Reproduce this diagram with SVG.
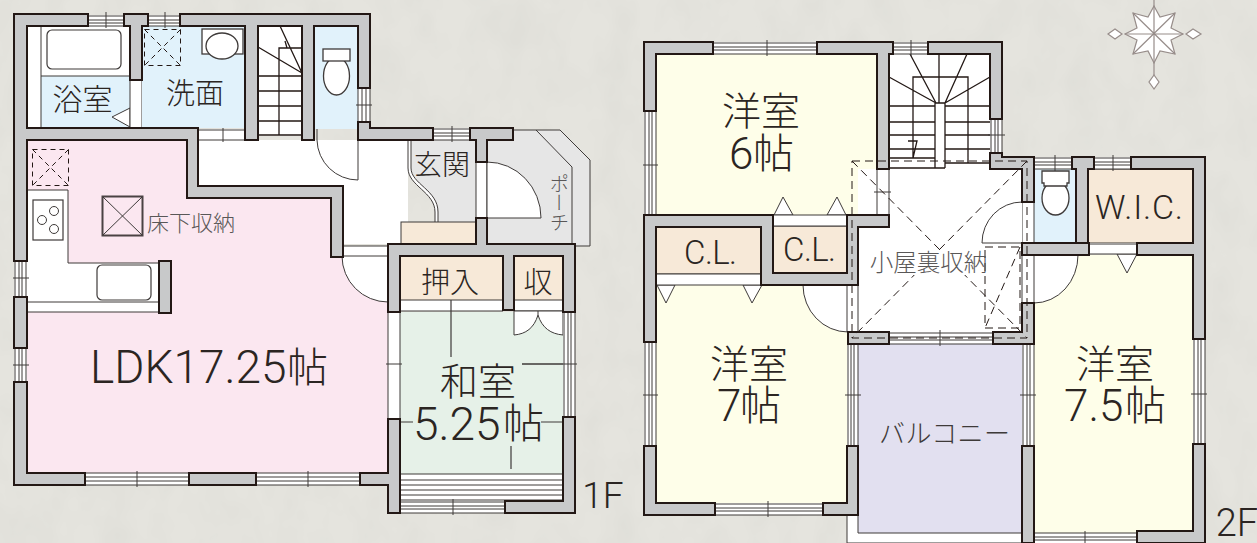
<svg xmlns="http://www.w3.org/2000/svg" width="1257" height="543" viewBox="0 0 1257 543">
<style>
text{font-family:"Roboto","Noto Sans CJK JP","Noto Sans",sans-serif;fill:#2b2522;font-weight:300;text-anchor:middle}
.s{fill:#595757}
.st{text-anchor:start}
.k{font-size:41px}
.w{fill:#c8c9ca;stroke:#231815;stroke-width:2;stroke-linejoin:miter}
.l{fill:none;stroke:#3e3a39;stroke-width:1}
.lh{fill:none;stroke:#231815;stroke-width:1.3}
.wh{fill:#fff;stroke:#3e3a39;stroke-width:1}
.win{fill:#fff}
.pk{fill:#fbe7f0}.bl{fill:#e1f2fb}.ye{fill:#fefee9}.gr{fill:#e6f1e8}.ta{fill:#f7e9d8;stroke:#3e3a39;stroke-width:1}.lv{fill:#e2e0f0}.gy{fill:#e6e6e6}
.d{fill:none;stroke:#231815;stroke-width:1;stroke-dasharray:8 5}
.d2{fill:none;stroke:#231815;stroke-width:1;stroke-dasharray:5 4}
.c{fill:#fff;stroke:#978d8a;stroke-width:1.2}
.cl{fill:none;stroke:#978d8a;stroke-width:1.2}
</style>
<defs>
<filter id="tx" x="0" y="0" width="100%" height="100%"><feTurbulence type="fractalNoise" baseFrequency="0.03 0.02" numOctaves="3" seed="4"/><feColorMatrix values="0 0 0 0 0.62 0 0 0 0 0.62 0 0 0 0 0.58 0.3 0.3 0 0 -0.24"/></filter>
</defs>
<g id="background"><rect width="1257" height="543" fill="#e5e4de"/><rect width="1257" height="543" filter="url(#tx)"/></g>

<g id="compass">
<path class="cl" d="M1154 0V75"/>
<path class="c" d="M1154 6L1160 17L1175 13L1171 28L1183 34L1171 40L1175 54L1160 51L1154 63L1148 51L1133 54L1137 40L1125 34L1137 28L1133 13L1148 17Z"/>
<path class="cl" d="M1154 6V63M1125 34H1183M1133 13L1175 54M1175 13L1133 54"/>
<path class="c" d="M1108 34L1115 29L1122 34L1115 39ZM1186 34L1193 29L1201 34L1193 39ZM1154 75L1159 82L1154 89L1149 82Z"/>
</g>

<g id="floor-1f">
<g id="ldk"><path class="pk" d="M27 140H187V198H330V256H388V473H27Z"/></g>
<g id="hall"><path class="win" d="M198 140H408V244H342V186H198Z"/><path class="win" d="M342 256A46 46 0 0 0 388 302V256Z"/><path class="l" d="M342 256A46 46 0 0 0 388 302"/>
<path class="win" d="M342 246H388V256H342Z"/><path class="l" d="M342 246H388M342 256H388"/>
<path class="win" d="M317 140A41 41 0 0 0 358 180V140Z"/><path class="l" d="M317 129V140A41 41 0 0 0 358 180V129"/>
<rect class="win" x="198" y="129" width="47" height="11"/><path class="l" d="M198 130H245M198 140H245M223 127V142"/></g>
<g id="bath">
<rect class="win" x="27" y="26" width="103" height="102"/><rect class="bl" x="41" y="76" width="89" height="52"/>
<path class="l" d="M41 26V128M41 76H130"/>
<rect class="l" x="47" y="30" width="74" height="39" rx="5" style="stroke-width:1.2"/>
<path class="wh" d="M130 108L112 117L130 127Z"/>
<rect class="win" x="130" y="80" width="12" height="48"/>
<path class="l" d="M130 80V128M142 80V128"/>
<text x="82.500" y="110" font-size="30">浴室</text></g>
<g id="wash">
<rect class="bl" x="142" y="26" width="103" height="102"/>
<rect class="d2" x="144.500" y="29.500" width="36" height="36"/>
<path class="d2" d="M144.500 29.500L180.500 65.500M180.500 29.500L144.500 65.500"/>
<rect class="wh" x="202" y="29" width="41" height="25" style="stroke-width:1.3"/><ellipse class="wh" cx="222" cy="46" rx="16" ry="13" style="stroke-width:1.3"/>
<text x="195" y="104" font-size="29">洗面</text></g>
<g id="stairs-1f">
<rect class="win" x="258" y="26" width="44" height="110"/>
<path class="lh" d="M258 76H302M258 91H302M258 106H302M258 121H302M258 135H302M279 135V48H287L302 48M280 26L302 73M258 47L302 73M285 41L287 48"/>
</g>
<g id="toilet-1f">
<rect class="bl" x="314" y="26" width="44" height="103"/>
<ellipse class="wh" cx="336.500" cy="76" rx="13" ry="19" style="stroke-width:1.3"/>
<rect class="wh" x="323" y="49" width="27" height="12" style="stroke-width:1.3"/>
</g>
<g id="kitchen">
<path class="win" d="M27 190H68V263H159V312H27Z"/>
<path class="l" d="M27 190H68V263H159M27 302H159M27 312H159"/>
<rect class="wh" x="33" y="200" width="30" height="40" style="stroke-width:1.2"/>
<circle class="wh" cx="54" cy="211" r="4.500"/><circle class="wh" cx="42" cy="220" r="4.500"/><circle class="wh" cx="54" cy="229" r="4.500"/>
<rect class="wh" x="97" y="265" width="54" height="35" rx="5" style="stroke-width:1.2"/>
<rect class="d2" x="32.500" y="149.500" width="36" height="36"/>
<path class="d2" d="M32.500 149.500L68.500 185.500M68.500 149.500L32.500 185.500"/>
<rect x="102.500" y="196.500" width="40" height="39" fill="none" stroke="#4a4243" stroke-width="2"/><path class="l" d="M103 197L142 235M142 197L103 235"/>
<text class="s" x="191" y="231" font-size="22">床下収納</text>
<text class="st" x="90" y="383" font-size="46">LDK17.25<tspan class="k" x="287" y="382">帖</tspan></text>
</g>
<g id="entrance">
<path class="gy" d="M408 140V168C408 186 435 192 435 212V222H476V140Z"/>
<path d="M409.500 140V168C409.500 185 436.500 191 436.500 212V222" fill="none" stroke="#fff" stroke-width="3"/>
<path class="l" d="M408 140V168C408 186 435 192 435 212V222M411 140V168C411 184 438 190 438 212V222"/>
<rect class="ta" x="401" y="222" width="75" height="22"/>
<rect class="win" x="476" y="162" width="11" height="56"/><path class="l" d="M476 162V218M487 162V218"/>
<text x="442" y="175" font-size="28">玄関</text>
</g>
<g id="porch">
<path class="gy" d="M513 130H560L590 160V246H575V244H487V140H513Z"/>
<path class="l" d="M513 130H560L590 160V246H575M536 130L572 167V245"/>
<path class="wh" d="M487 162A54 56 0 0 1 541 218H487Z"/>
<text class="s" x="556" y="203" font-size="19.500" style="writing-mode:vertical-rl" dominant-baseline="middle">ポーチ</text>
</g>
<g id="washitsu">
<rect class="gr" x="400" y="312" width="163" height="162"/>
<rect class="win" x="400" y="300" width="103" height="11"/><rect class="win" x="514" y="300" width="49" height="11"/>
<rect class="ta" x="400" y="256" width="103" height="44"/><rect class="ta" x="514" y="256" width="49" height="44"/>
<path class="l" d="M400 311H503M514 311H563"/>
<path class="wh" d="M514 311V335C526 334 534 328 538 315C542 328 551 334 563 335V311Z"/>
<path class="l" d="M538 311V315"/>
<rect class="win" x="400" y="474" width="163" height="27"/>
<path class="l" d="M400 474H563M400 480H563M400 485H563M400 490H563M400 495H563M400 500H563"/>
<path class="l" style="stroke-width:1.2" d="M451 300V357M522 364H563M400 422H413M541 422H563M511 446V469"/>
<text x="450" y="293" font-size="29">押入</text><text x="538" y="293" font-size="29">収</text>
<text class="st" font-size="46"><tspan style="font-size:38px;text-anchor:middle" x="478" y="395">和室</tspan><tspan x="413" y="440">5.25</tspan><tspan class="k" x="503" y="438">帖</tspan></text>
</g>
<g id="windows-1f">
<rect class="win" x="88" y="15" width="36" height="11"/><rect class="win" x="148" y="15" width="32" height="11"/><rect class="win" x="433" y="128" width="37" height="12"/><rect class="win" x="85" y="473" width="104" height="12"/><rect class="win" x="256" y="473" width="104" height="12"/><rect class="win" x="400" y="501" width="105" height="12"/><rect class="win" x="14" y="261" width="13" height="36"/><rect class="win" x="14" y="348" width="13" height="34"/><rect class="win" x="358" y="88" width="12" height="34"/><rect class="win" x="563" y="312" width="12" height="105"/><rect class="win" x="388" y="312" width="12" height="107"/>
<path class="l" d="M88 16H124M88 20H124M88 23H124M88 26H124M106 12V28M148 16H180M148 20H180M148 23H180M148 26H180M165 12V28M433 129H470M433 133H470M433 136H470M433 140H470M452 126V142M85 473H189M85 477H189M85 481H189M85 485H189M137 471V487M256 473H360M256 477H360M256 481H360M256 485H360M308 471V487M400 502H505M400 506H505M400 509H505M400 513H505M453 499V515M15 261V297M19 261V297M22 261V297M26 261V297M13 278H29M15 348V382M19 348V382M22 348V382M26 348V382M13 365H29M358 88V122M362 88V122M366 88V122M370 88V122M356 105H372M564 312V417M568 312V417M571 312V417M575 312V417M522 364H577M388 312V419M400 312V419M386 364H402"/>
</g>
<g id="walls-1f">
<path class="w" d="M14 14H88V26H27V128H198V186H343V257H331V198H187V140H27V261H14Z"/>
<path class="w" d="M124 14H148V26H142V80H130V26H124Z"/>
<path class="w" d="M180 14H370V88H358V26H314V140H302V26H258V140H245V26H180Z"/>
<path class="w" d="M358 122H370V128H433V140H358Z"/>
<path class="w" d="M470 128H513V140H487V162H476V140H470Z"/>
<path class="w" d="M476 218H487V244H575V312H563V256H514V310H503V256H400V312H388V244H476Z"/>
<path class="w" d="M14 297H27V348H14Z"/>
<path class="w" d="M14 382H27V473H85V485H14Z"/>
<rect class="w" x="189" y="473" width="67" height="12"/>
<path class="w" d="M360 473H388V419H400V513H388V485H360Z"/>
<path class="w" d="M563 417H575V513H505V501H563Z"/>
<rect class="w" x="159" y="261" width="12" height="52"/>
</g>
<text id="label-1f" x="603" y="508" font-size="37">1F</text>
</g>

<g id="floor-2f">
<g id="room-6"><rect class="ye" x="656" y="54" width="221" height="161"/><path class="wh" d="M774 215L783 197L793 215ZM827 215L837 197L846 215Z"/>
<text font-size="44"><tspan style="font-size:39px" x="761" y="125">洋室</tspan><tspan class="st" x="729" y="169">6</tspan><tspan class="k st" x="753" y="168">帖</tspan></text></g>
<g id="room-7"><rect class="ye" x="656" y="285" width="191" height="218"/>
<path class="win" d="M803 285A45 47 0 0 0 848 332V285Z"/><path class="l" d="M803 285A45 47 0 0 0 848 332"/>
<path class="wh" d="M657 285L666 303L675 285ZM743 285L752 303L762 285Z"/>
<text font-size="44"><tspan style="font-size:39px" x="749" y="378">洋室</tspan><tspan class="st" x="717" y="421">7</tspan><tspan class="k st" x="740" y="420">帖</tspan></text></g>
<g id="closets">
<rect class="ta" x="656" y="227" width="105" height="47"/><rect class="wh" x="656" y="274" width="105" height="11"/>
<rect class="ta" x="773" y="226" width="74" height="47"/><rect class="wh" x="773" y="215" width="74" height="11"/>
<text x="710.500" y="264" font-size="33" textLength="53" lengthAdjust="spacing">C.L.</text>
<text x="809.500" y="261" font-size="33" textLength="53" lengthAdjust="spacing">C.L.</text>
</g>
<g id="balcony">
<path class="win" d="M847 515H1022V543H847Z"/><rect class="lv" x="858" y="344" width="164" height="189"/>
<path class="l" d="M847 515V543M858 515V533H1022M847 543H1022"/>
<text class="s" x="944.500" y="443" font-size="26" textLength="131" lengthAdjust="spacing" style="fill:#3e3a39">バルコニー</text>
</g>
<g id="room-75"><rect class="ye" x="1034" y="255" width="159" height="278"/>
<path class="win" d="M1078 255A44 48 0 0 1 1034 303V255Z"/><path class="l" d="M1078 255A44 48 0 0 1 1034 303"/>
<path class="wh" d="M1117 254L1137 254L1127 273Z"/>
<text font-size="44"><tspan style="font-size:39px" x="1115" y="378">洋室</tspan><tspan class="st" x="1064" y="421">7.5</tspan><tspan class="k st" x="1125" y="420">帖</tspan></text></g>
<g id="wic"><rect class="ta" x="1088" y="169" width="105" height="74"/><rect class="win" x="1089" y="243" width="48" height="11"/><path class="l" d="M1089 244H1137M1089 254H1137"/>
<text x="1139" y="219" font-size="34" textLength="88" lengthAdjust="spacing">W.I.C.</text></g>
<g id="toilet-2f"><rect class="bl" x="1034" y="169" width="42" height="74"/>
<ellipse class="wh" cx="1055.500" cy="198" rx="13.500" ry="17" style="stroke-width:1.3"/>
<path class="wh" d="M1042 171H1069V183H1067V186H1044V183H1042Z" style="stroke-width:1.3"/></g>
<g id="loft">
<rect class="win" x="858" y="169" width="164" height="163"/><rect class="win" x="889" y="54" width="101" height="115"/>
<rect class="win" x="847" y="285" width="11" height="47"/><path class="l" d="M847 285V332M858 285V332"/>
<rect class="win" x="1022" y="202" width="12" height="41"/><rect class="win" x="1022" y="255" width="12" height="48"/><path class="l" d="M1022 202V243M1034 202V243M1022 255V303M1034 255V303"/>
<path class="win" d="M982 243A40 41 0 0 1 1022 202V243Z"/><path class="l" d="M982 243A40 41 0 0 1 1022 202M982 243H1022"/>
<rect class="win" x="877" y="169" width="12" height="46"/><path class="l" d="M877 169V215M889 169V215M874 192H891"/>
</g>
<g id="stairs-2f">
<path class="lh" d="M889 106H935M889 122H935M889 135H935M889 149H935M889 158H935M945 106H990M945 122H990M945 135H990M945 149H990M945 163H990M913 158V77H968V163M939 54V103M935 103V168M945 103V168M889 168H945M935 103H945M910 54L936 103M889 77L936 103M967 54L945 103M990 77L945 103M908 141H917L913 158"/>
</g>
<g id="windows-2f">
<rect class="win" x="713" y="42" width="104" height="12"/><rect class="win" x="893" y="42" width="35" height="12"/><rect class="win" x="889" y="332" width="104" height="12"/><rect class="win" x="715" y="503" width="108" height="12"/><rect class="win" x="1034" y="157" width="38" height="12"/><rect class="win" x="1094" y="157" width="37" height="12"/><rect class="win" x="1033" y="533" width="104" height="10"/><rect class="win" x="644" y="111" width="12" height="104"/><rect class="win" x="644" y="342" width="12" height="104"/><rect class="win" x="847" y="344" width="11" height="102"/><rect class="win" x="1022" y="344" width="12" height="102"/><rect class="win" x="1193" y="339" width="12" height="105"/><rect class="win" x="990" y="119" width="12" height="34"/>
<path class="l" d="M713 43H817M713 47H817M713 50H817M713 54H817M767 40V56M893 43H928M893 47H928M893 50H928M893 54H928M911 40V56M889 333H993M889 337H993M889 340H993M889 344H993M940 330V346M715 504H823M715 508H823M715 511H823M715 515H823M768 501V517M1034 158H1072M1034 162H1072M1034 165H1072M1034 169H1072M1055 155V171M1094 158H1131M1094 162H1131M1094 165H1131M1094 169H1131M1113 155V171M1033 533H1137M1033 537H1137M1033 540H1137M1085 531V543M645 111V215M649 111V215M652 111V215M656 111V215M643 165H658M645 342V446M649 342V446M652 342V446M656 342V446M643 395H658M848 344V446M851 344V446M854 344V446M858 344V446M845 395H861M1023 344V446M1027 344V446M1030 344V446M1034 344V446M1020 395H1036M1194 339V444M1198 339V444M1201 339V444M1205 339V444M1191 394H1207M991 119V153M995 119V153M998 119V153M1002 119V153M988 135H1005"/>
</g>
<g id="walls-2f">
<path class="w" d="M644 42H713V54H656V111H644Z"/>
<path class="w" d="M817 42H893V54H889V169H877V54H817Z"/>
<path class="w" d="M928 42H1002V119H990V54H928Z"/>
<path class="w" d="M990 153H1002V157H1034V202H1022V169H990Z"/>
<path class="w" d="M1072 157H1094V169H1088V243H1076V169H1072Z"/>
<path class="w" d="M1131 157H1205V339H1193V255H1137V243H1193V169H1131Z"/>
<rect class="w" x="1022" y="243" width="67" height="12"/>
<path class="w" d="M644 215H773V273H847V215H889V227H858V285H761V227H656V342H644Z"/>
<rect class="w" x="848" y="332" width="41" height="12"/>
<path class="w" d="M1022 303H1034V344H993V332H1022Z"/>
<path class="w" d="M644 446H656V503H715V515H644Z"/>
<path class="w" d="M823 503H847V446H858V515H823Z"/>
<rect class="w" x="1022" y="446" width="12" height="97"/>
<path class="w" d="M1193 444H1205V543H1137V531H1193Z"/>
</g>
<g id="attic">
<path class="d" d="M852 161H1027V338H852ZM852 161L1027 338M1027 161L852 338"/>
<rect class="d" x="985" y="247" width="35" height="81"/><path class="d" d="M1020 247L985 328"/>
<rect x="868" y="251" width="116" height="24" fill="#fff"/>
<text class="s" x="928.500" y="271" font-size="23.500">小屋裏収納</text>
</g>
<text id="label-2f" x="1237" y="536" font-size="38">2F</text>
</g>
</svg>
